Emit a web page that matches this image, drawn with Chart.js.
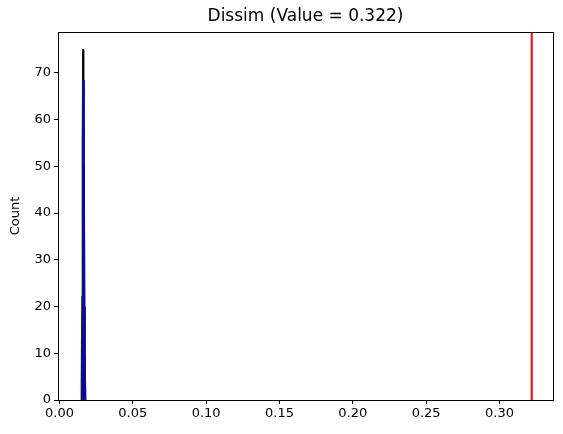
<!DOCTYPE html>
<html>
<head>
<meta charset="utf-8">
<script src="https://cdn.jsdelivr.net/npm/chart.js@4/dist/chart.umd.min.js"></script>
<style>
  html, body { margin: 0; padding: 0; background: #fff; }
  #wrap { width: 563px; height: 434px; }
</style>
</head>
<body>
<div id="wrap"><canvas id="chart" width="563" height="434"></canvas></div>
<script>
// histogram bins (edges) and counts
const binEdges = [0.0150, 0.0155, 0.0160, 0.0165, 0.0170, 0.0175, 0.0180];
const binCounts = [2, 15, 75, 50, 9, 3];

// density curve, scaled to counts
const kdeX = [0.0148, 0.0153, 0.0157, 0.0160, 0.0162, 0.0164, 0.0166, 0.0169, 0.0172, 0.0176];
const kdeY = [0, 3, 22, 55, 68.5, 62, 45, 20, 5, 0];

const observedValue = 0.322;
const titleText = 'Dissim (Value = ' + observedValue.toFixed(3) + ')';
const xTickValues = [0.00, 0.05, 0.10, 0.15, 0.20, 0.25, 0.30];
const yTickValues = [0, 10, 20, 30, 40, 50, 60, 70];
const xMin = -0.001, xMax = 0.3365;
const yMax = 78.75;

const histPoints = [];
binCounts.forEach((c, i) => {
    const l = binEdges[i], r = binEdges[i + 1];
    histPoints.push({ x: l, y: 0 }, { x: l, y: c }, { x: r, y: c }, { x: r, y: 0 });
});
const kdePoints = kdeX.map((x, i) => ({ x: x, y: kdeY[i] }));

const font = { family: 'DejaVu Sans', size: 13 };

new Chart(document.getElementById('chart').getContext('2d'), {
    type: 'line',
    data: {
        datasets: [
            {
                data: histPoints,
                borderColor: '#000',
                backgroundColor: '#000',
                borderWidth: 1,
                pointRadius: 0,
                fill: 'origin',
                tension: 0,
                order: 3
            },
            {
                data: kdePoints,
                borderColor: '#0b0b9c',
                borderWidth: 2.5,
                pointRadius: 0,
                fill: false,
                tension: 0,
                order: 1
            },
            {
                data: [{ x: observedValue, y: 0 }, { x: observedValue, y: yMax }],
                borderColor: '#ff0000',
                borderWidth: 2,
                pointRadius: 0,
                fill: false,
                order: 2
            }
        ]
    },
    options: {
        responsive: false,
        animation: false,
        layout: { padding: { left: 0, right: 10, top: 32, bottom: 0 } },
        plugins: {
            legend: { display: false },
            tooltip: { enabled: false },
            title: { display: false }
        },
        scales: {
            x: {
                type: 'linear',
                min: xMin,
                max: xMax,
                afterBuildTicks: s => { s.ticks = xTickValues.map(v => ({ value: v })); },
                afterFit: s => { s.height = 34; },
                ticks: {
                    color: '#000',
                    font: font,
                    padding: 2,
                    maxRotation: 0,
                    autoSkip: false,
                    callback: v => v.toFixed(2)
                },
                grid: { display: true, drawOnChartArea: false, drawTicks: true, tickLength: 4, color: '#000' },
                border: { display: true, color: '#000', width: 1 }
            },
            y: {
                min: 0,
                max: yMax,
                afterBuildTicks: s => { s.ticks = yTickValues.map(v => ({ value: v })); },
                afterFit: s => { s.width = 58; },
                title: { display: true, text: 'Count', color: '#000', font: font, padding: { top: 8, bottom: 0 } },
                ticks: { color: '#000', font: font, padding: 3 },
                grid: { display: true, drawOnChartArea: false, drawTicks: true, tickLength: 4, color: '#000' },
                border: { display: true, color: '#000', width: 1 }
            }
        }
    },
    plugins: [{
        // right and top spines, title centred over the plot area
        id: 'frame',
        afterDraw(chart) {
            const { ctx, chartArea: a } = chart;
            ctx.save();
            ctx.strokeStyle = '#000';
            ctx.lineWidth = 1;
            ctx.strokeRect(a.left + 0.5, a.top + 0.5, a.right - a.left, a.bottom - a.top);
            ctx.fillStyle = '#000';
            ctx.font = '17px "DejaVu Sans"';
            ctx.textAlign = 'center';
            ctx.textBaseline = 'middle';
            ctx.fillText(titleText, (a.left + a.right) / 2, 17);
            ctx.restore();
        }
    }]
});
</script>
</body>
</html>
